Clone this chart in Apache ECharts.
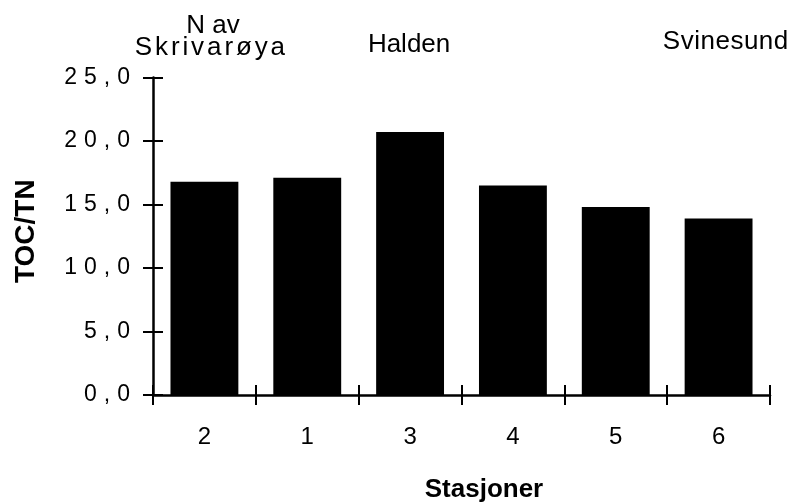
<!DOCTYPE html>
<html><head><meta charset="utf-8">
<script src="https://cdn.jsdelivr.net/npm/echarts@6/dist/echarts.min.js"></script>
<style>html,body{margin:0;padding:0;background:#fff}#c{width:794px;height:504px}</style>
</head><body><div id="c"></div>
<script>
// ---- data ----
const categories = ['2', '1', '3', '4', '5', '6'];
const tocTn = [16.8, 17.1, 20.7, 16.5, 14.8, 13.9];
const yMin = 0, yMax = 25, yStep = 5;
const xTitle = 'Stasjoner';
const yTitle = 'TOC/TN';
const noteCats = ['2', '3', '6'];
const noteTexts = [['N av', 'Skrivarøya'], ['Halden'], ['Svinesund']];

// ---- styling ----
const FONT = 'Liberation Sans, Arial, Helvetica, sans-serif';
function spaced(str, gap, fs, weight) {
  const chars = Array.from(str);
  const rich = {
    s: { fontSize: fs, fontFamily: FONT, fontWeight: weight || 'normal', color: '#000', padding: [0, gap, 0, 0] },
    e: { fontSize: fs, fontFamily: FONT, fontWeight: weight || 'normal', color: '#000' }
  };
  const text = chars.map((c, i) => '{' + (i === chars.length - 1 ? 'e' : 's') + '|' + c + '}').join('');
  return { text, rich };
}
const yLabRich = spaced('0', 7, 23).rich;

const chart = echarts.init(document.getElementById('c'), null, { renderer: 'canvas' });
const option = {
  backgroundColor: '#fff',
  animation: false,
  grid: { left: 153, right: 24, top: 77.5, bottom: 109, containLabel: false, outerBoundsMode: 'none' },
  xAxis: [{
    type: 'category', data: categories, position: 'bottom',
    axisLine: { show: true, lineStyle: { color: '#000', width: 2.5 } },
    axisTick: { show: true, inside: false, length: 10, lineStyle: { color: '#000', width: 2 } },
    axisLabel: { color: '#000', fontSize: 24, fontFamily: FONT, margin: 30 },
    splitLine: { show: false },
    name: xTitle, nameLocation: 'middle', nameGap: 95,
    nameTextStyle: { color: '#000', fontSize: 26, fontWeight: 'bold', fontFamily: FONT, verticalAlign: 'middle', padding: [0, 0, 0, 45] }
  }, {
    type: 'category', data: categories, position: 'bottom', gridIndex: 0,
    axisLine: { show: false },
    axisTick: { show: true, inside: true, length: 10, lineStyle: { color: '#000', width: 2 } },
    axisLabel: { show: false }, splitLine: { show: false }
  }],
  yAxis: [{
    type: 'value', min: yMin, max: yMax, interval: yStep, position: 'left',
    axisLine: { show: true, lineStyle: { color: '#000', width: 2.5 } },
    axisTick: { show: true, inside: false, length: 10, lineStyle: { color: '#000', width: 2 } },
    axisLabel: {
      margin: 23, align: 'right', color: '#000', fontSize: 23, fontFamily: FONT,
      formatter: v => spaced(v.toFixed(1).replace('.', ','), 7, 23).text,
      rich: yLabRich
    },
    splitLine: { show: false },
    name: yTitle, nameLocation: 'middle', nameGap: 127, nameRotate: 90,
    nameTextStyle: { color: '#000', fontSize: 28, fontWeight: 'bold', fontFamily: FONT, verticalAlign: 'middle', padding: [0, 0, 0, 10] }
  }, {
    type: 'value', min: yMin, max: yMax, interval: yStep, position: 'left',
    axisLine: { show: false },
    axisTick: { show: true, inside: true, length: 10, lineStyle: { color: '#000', width: 2 } },
    axisLabel: { show: false }, splitLine: { show: false }
  }],
  series: [{
    type: 'bar', data: tocTn, xAxisIndex: 0, yAxisIndex: 0,
    barWidth: '66%', itemStyle: { color: '#000' }, silent: true
  }]
};
chart.setOption(option);

// station notes above the plot, placed by category through the axis scale
const noteStyle = [
  [{ dx: 8.5, y: 26, gap: 0 }, { dx: 5.5, y: 47.8, gap: 2.9 }],
  [{ dx: -1, y: 44.7, gap: 0 }],
  [{ dx: 7, y: 42, gap: 0.5 }]
];
const graphics = [];
noteCats.forEach((cat, i) => {
  const cx = chart.convertToPixel({ xAxisIndex: 0 }, cat);
  noteTexts[i].forEach((line, j) => {
    const st = noteStyle[i][j];
    const sp = spaced(line, st.gap, 26);
    graphics.push({
      type: 'text', x: cx + st.dx, y: st.y, silent: true,
      style: { text: sp.text, rich: sp.rich, align: 'center', verticalAlign: 'middle', fontSize: 26, fontFamily: FONT, fill: '#000' }
    });
  });
});
chart.setOption({ graphic: graphics });
</script></body></html>
